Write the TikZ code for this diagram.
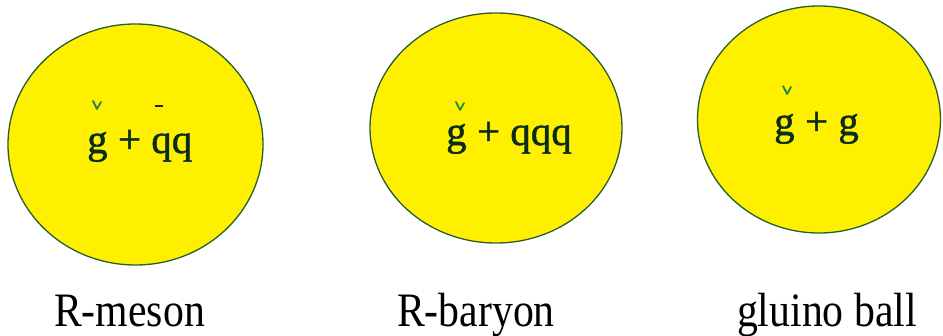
\documentclass[tikz,border=0pt]{standalone}
\usepackage{fontspec}
\setmainfont{Liberation Serif}
\newfontfamily\timesish{Liberation Serif}
\newfontfamily\timesheavy[FakeBold=1.2]{Liberation Serif}
\usetikzlibrary{shapes.geometric}
\definecolor{ballfill}{RGB}{255,240,0}
\definecolor{balledge}{RGB}{40,95,45}
\definecolor{inktext}{RGB}{10,45,25}
\definecolor{accentgreen}{RGB}{30,135,70}
\tikzset{
  ball/.style={ellipse, draw=balledge, line width=1.3pt, fill=ballfill, inner sep=0pt},
  content/.style={anchor=base west, inner sep=0pt, text=inktext, font=\timesheavy\fontsize{41}{44}\selectfont},
  caption/.style={anchor=base, inner sep=0pt, text=black, font=\timesish\fontsize{48}{52}\selectfont},
  gmark/.style={draw=accentgreen, line width=1.8pt, line cap=round, line join=round},
  qbar/.style={draw=inktext, line width=1.4pt}
}
\begin{document}
\begin{tikzpicture}[x=1pt,y=-1pt]
\useasboundingbox[fill=white] (0,0) rectangle (943,336);
% balls
\node[ball, minimum width=255pt, minimum height=241pt] (b1) at (135.5,144.5) {};
\node[ball, minimum width=252pt, minimum height=230pt] (b2) at (496,128) {};
\node[ball, minimum width=243pt, minimum height=227pt] (b3) at (819,119.5) {};
% contents
\node[content] (t1) at (87,153) {g + qq};
\node[content] (t2) at (446,145) {g + qqq};
\node[content] (t3) at (774,135) {g + g};
% accents over gluino g
\draw[gmark] (93,101) -- (97,109) -- (101,102);
\draw[gmark] (456,102) -- (460,110) -- (464,103);
\draw[gmark] (783,86) -- (787,94) -- (791,87);
% bar over anti-quark
\draw[qbar] (155,106) -- (163,106);
% captions
\node[caption] (c1) at (129.5,327) {\scalebox{0.87}[1]{R-meson}};
\node[caption] (c2) at (476,327) {\scalebox{0.87}[1]{R-baryon}};
\node[caption] (c3) at (827,327) {\scalebox{0.87}[1]{gluino ball}};
\end{tikzpicture}
\end{document}
